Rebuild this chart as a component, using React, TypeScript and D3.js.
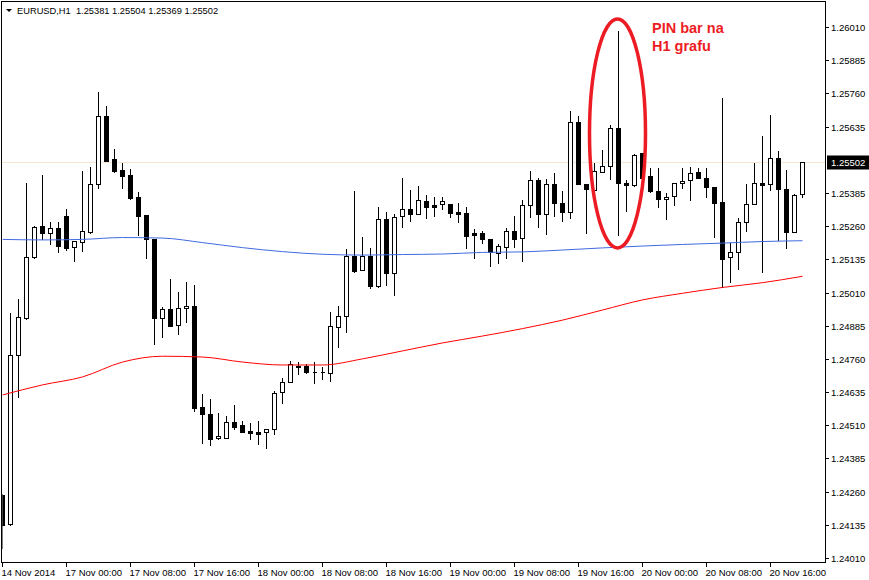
import React from 'react';
import * as d3 from 'd3';

// EURUSD H1 candles, 14 Nov 2014 16:00 .. 20 Nov 2014 20:00 (101 bars)
const opens = [
  1.24247, 1.24138, 1.24775, 1.24914, 1.25144, 1.25260, 1.25234, 1.25253, 1.25298, 1.25181,
  1.25200, 1.25238, 1.25419, 1.25675, 1.25513, 1.25471, 1.25453, 1.25370, 1.25302, 1.25212,
  1.24914, 1.24948, 1.24888, 1.24952, 1.24959, 1.24579, 1.24552, 1.24462, 1.24462, 1.24522,
  1.24511, 1.24488, 1.24485, 1.24485, 1.24496, 1.24635, 1.24673, 1.24729, 1.24733, 1.24711,
  1.24711, 1.24707, 1.24880, 1.24921, 1.25147, 1.25095, 1.25147, 1.25034, 1.25287, 1.25083,
  1.25298, 1.25325, 1.25306, 1.25355, 1.25340, 1.25343, 1.25343, 1.25313, 1.25309, 1.25234,
  1.25234, 1.25212, 1.25159, 1.25181, 1.25242, 1.25215, 1.25340, 1.25434, 1.25306, 1.25419,
  1.25347, 1.25313, 1.25652, 1.25419, 1.25396, 1.25464, 1.25486, 1.25630, 1.25422, 1.25415,
  1.25535, 1.25449, 1.25392, 1.25362, 1.25373, 1.25422, 1.25434, 1.25464, 1.25441, 1.25407,
  1.25351, 1.25144, 1.25163, 1.25276, 1.25343, 1.25422, 1.25419, 1.25517, 1.25400, 1.25238,
  1.25381,
];
const highs = [
  1.24255, 1.24937, 1.24989, 1.25426, 1.25264, 1.25456, 1.25279, 1.25279, 1.25328, 1.25204,
  1.25471, 1.25486, 1.25769, 1.25716, 1.25554, 1.25502, 1.25479, 1.25392, 1.25302, 1.25212,
  1.24959, 1.25065, 1.25016, 1.25053, 1.25042, 1.24631, 1.24613, 1.24560, 1.24549, 1.24590,
  1.24530, 1.24522, 1.24530, 1.24496, 1.24643, 1.24692, 1.24756, 1.24752, 1.24744, 1.24752,
  1.24733, 1.24940, 1.24963, 1.25178, 1.25396, 1.25223, 1.25181, 1.25336, 1.25317, 1.25309,
  1.25445, 1.25400, 1.25415, 1.25381, 1.25373, 1.25373, 1.25347, 1.25351, 1.25336, 1.25253,
  1.25245, 1.25212, 1.25196, 1.25257, 1.25302, 1.25362, 1.25471, 1.25445, 1.25441, 1.25464,
  1.25396, 1.25697, 1.25679, 1.25419, 1.25502, 1.25550, 1.25645, 1.25999, 1.25437, 1.25535,
  1.25539, 1.25483, 1.25483, 1.25389, 1.25422, 1.25483, 1.25486, 1.25483, 1.25483, 1.25407,
  1.25746, 1.25200, 1.25294, 1.25422, 1.25502, 1.25603, 1.25682, 1.25547, 1.25475, 1.25385,
  1.25504,
];
const lows = [
  1.24048, 1.24134, 1.24616, 1.24910, 1.25140, 1.25212, 1.25193, 1.25163, 1.25170, 1.25129,
  1.25166, 1.25234, 1.25404, 1.25505, 1.25464, 1.25404, 1.25362, 1.25227, 1.25140, 1.24816,
  1.24842, 1.24884, 1.24854, 1.24899, 1.24564, 1.24443, 1.24436, 1.24458, 1.24462, 1.24496,
  1.24485, 1.24458, 1.24439, 1.24424, 1.24477, 1.24594, 1.24673, 1.24703, 1.24707, 1.24669,
  1.24684, 1.24677, 1.24805, 1.24861, 1.25087, 1.25095, 1.25027, 1.25031, 1.25038, 1.25001,
  1.25257, 1.25279, 1.25306, 1.25291, 1.25298, 1.25325, 1.25294, 1.25276, 1.25178, 1.25140,
  1.25196, 1.25110, 1.25121, 1.25140, 1.25181, 1.25129, 1.25294, 1.25257, 1.25230, 1.25298,
  1.25279, 1.25291, 1.25419, 1.25234, 1.25396, 1.25464, 1.25437, 1.25227, 1.25317, 1.25411,
  1.25434, 1.25389, 1.25332, 1.25287, 1.25340, 1.25404, 1.25358, 1.25441, 1.25370, 1.25219,
  1.25031, 1.25050, 1.25099, 1.25242, 1.25343, 1.25087, 1.25396, 1.25208, 1.25178, 1.25238,
  1.25369,
];
const closes = [
  1.24134, 1.24775, 1.24918, 1.25144, 1.25257, 1.25234, 1.25253, 1.25185, 1.25178, 1.25204,
  1.25242, 1.25419, 1.25675, 1.25505, 1.25468, 1.25449, 1.25366, 1.25298, 1.25212, 1.24914,
  1.24948, 1.24884, 1.24952, 1.24959, 1.24575, 1.24552, 1.24458, 1.24470, 1.24522, 1.24503,
  1.24485, 1.24481, 1.24477, 1.24496, 1.24631, 1.24673, 1.24741, 1.24733, 1.24711, 1.24711,
  1.24710, 1.24884, 1.24921, 1.25147, 1.25091, 1.25147, 1.25034, 1.25287, 1.25083, 1.25294,
  1.25325, 1.25306, 1.25358, 1.25332, 1.25332, 1.25355, 1.25309, 1.25306, 1.25223, 1.25227,
  1.25212, 1.25163, 1.25185, 1.25242, 1.25212, 1.25340, 1.25434, 1.25306, 1.25419, 1.25347,
  1.25313, 1.25652, 1.25419, 1.25400, 1.25468, 1.25486, 1.25630, 1.25422, 1.25415, 1.25528,
  1.25441, 1.25392, 1.25362, 1.25370, 1.25422, 1.25430, 1.25460, 1.25441, 1.25407, 1.25347,
  1.25136, 1.25163, 1.25276, 1.25343, 1.25422, 1.25415, 1.25517, 1.25400, 1.25238, 1.25377,
  1.25502,
];

// Moving averages read at every 5th bar
const maBars = [0, 5, 10, 15, 20, 25, 30, 35, 40, 45, 50, 55, 60, 65, 70, 75, 80, 85, 90, 95, 100];
const maBlue = [
  1.25210, 1.25208, 1.25210, 1.25217, 1.25215, 1.25198, 1.25179, 1.25164, 1.25154, 1.25151,
  1.25153, 1.25155, 1.25161, 1.25163, 1.25170, 1.25178, 1.25185, 1.25191, 1.25196, 1.25202,
  1.25205,
];
const maRed = [
  1.24624, 1.24662, 1.24692, 1.24748, 1.24770, 1.24767, 1.24748, 1.24737, 1.24737, 1.24760,
  1.24790, 1.24820, 1.24846, 1.24874, 1.24906, 1.24944, 1.24982, 1.25007, 1.25029, 1.25047,
  1.25071,
];

const priceTicks = [
  1.26010, 1.25885, 1.25760, 1.25635, 1.25385, 1.25260, 1.25135, 1.25010,
  1.24885, 1.24760, 1.24635, 1.24510, 1.24385, 1.24260, 1.24135, 1.24010,
];
const timeLabels = [
  '14 Nov 2014', '17 Nov 00:00', '17 Nov 08:00', '17 Nov 16:00', '18 Nov 00:00',
  '18 Nov 08:00', '18 Nov 16:00', '19 Nov 00:00', '19 Nov 08:00', '19 Nov 16:00',
  '20 Nov 00:00', '20 Nov 08:00', '20 Nov 16:00',
];
const timeBars = [0, 8, 16, 24, 32, 40, 48, 56, 64, 72, 80, 88, 96];

const headerText = 'EURUSD,H1  1.25381 1.25504 1.25369 1.25502';
const bidPrice = 1.25502;
const annotation = ['PIN bar na', 'H1 grafu'];
const pinBar = 77;

const FONT = '"Liberation Sans", Arial, sans-serif';

export default function App() {
  const W = 869, H = 580;
  const L = 2, R = 825, T = 2, B = 562;
  const x = d3.scaleLinear().domain([0, 100]).range([2.5, 802.5]);
  const y = d3.scaleLinear().domain([1.24010, 1.26010]).range([558, 27]);
  const py = (v: number) => Math.round(y(v)) + 0.5;

  const line = d3.line<number>()
    .x((_, i) => x(maBars[i]))
    .y((d) => y(d))
    .curve(d3.curveMonotoneX);

  const candles = opens.map((o, i) => {
    const c = closes[i];
    const cx = x(i);
    const yTop = py(Math.max(o, c));
    const yBot = py(Math.min(o, c));
    const bull = c >= o;
    return (
      <g key={i}>
        <line x1={cx} x2={cx} y1={py(highs[i])} y2={py(lows[i])} stroke="#000" strokeWidth={1} />
        {yBot - yTop < 1 ? (
          <line x1={cx - 2} x2={cx + 2} y1={yTop} y2={yTop} stroke="#000" strokeWidth={1} />
        ) : (
          <rect x={cx - 2} y={yTop} width={4} height={yBot - yTop}
            fill={bull ? '#fff' : '#000'} stroke="#000" strokeWidth={1} />
        )}
      </g>
    );
  });

  const bidY = py(bidPrice);
  const pinX = x(pinBar) - 1;
  const pinTop = y(highs[pinBar]);
  const pinBot = y(lows[pinBar]);

  return (
    <svg width={W} height={H} style={{ position: 'absolute', left: 0, top: 0, background: '#fff' }}
      fontFamily={FONT}>
      <defs>
        <clipPath id="plot">
          <rect x={L + 0.5} y={T + 0.5} width={R - L - 1} height={B - T - 1} />
        </clipPath>
      </defs>
      <rect x={0} y={0} width={W} height={H} fill="#fff" />
      {/* bid line */}
      <line x1={L} x2={R} y1={bidY} y2={bidY} stroke="#f6e6d3" strokeWidth={1} />
      <g clipPath="url(#plot)" shapeRendering="crispEdges">{candles}</g>
      <g clipPath="url(#plot)">
        <path d={line(maBlue) || ''} fill="none" stroke="#4169e1" strokeWidth={1} />
        <path d={line(maRed) || ''} fill="none" stroke="#ff0000" strokeWidth={1} />
      </g>
      {/* frame */}
      <rect x={L - 0.5} y={T - 0.5} width={R - L + 1} height={B - T + 1} fill="none" stroke="#000" strokeWidth={1} shapeRendering="crispEdges" />
      {/* right axis */}
      {priceTicks.map((p, i) => (
        <g key={i}>
          <line x1={R} x2={R + 4} y1={py(p)} y2={py(p)} stroke="#000" shapeRendering="crispEdges" />
          <text x={831} y={py(p) + 3.5} fontSize={9.5} fill="#000">{p.toFixed(5)}</text>
        </g>
      ))}
      {/* bid label */}
      <rect x={827} y={bidY - 7} width={42} height={14} fill="#000" />
      <text x={831} y={bidY + 3.5} fontSize={9.5} fill="#fff">{bidPrice.toFixed(5)}</text>
      {/* bottom axis */}
      {timeBars.map((b, i) => (
        <g key={i}>
          <line x1={x(b)} x2={x(b)} y1={B} y2={B + 5} stroke="#000" shapeRendering="crispEdges" />
          <text x={x(b) - 1} y={576} fontSize={9.5} fill="#000">{timeLabels[i]}</text>
        </g>
      ))}
      {/* header */}
      <path d="M6,9 L12,9 L9,12 Z" fill="#000" />
      <text x={17} y={14} fontSize={9.3} fill="#000" style={{ whiteSpace: 'pre' }}>{headerText}</text>
      {/* annotation */}
      <ellipse cx={pinX} cy={(pinTop + pinBot) / 2 + 1} rx={28} ry={(pinBot - pinTop) / 2 + 12}
        fill="none" stroke="#ed1c24" strokeWidth={3.5} />
      <text x={652} y={33} fontSize={14.5} fontWeight="bold" fill="#ed1c24">{annotation[0]}</text>
      <text x={652} y={51} fontSize={14.5} fontWeight="bold" fill="#ed1c24">{annotation[1]}</text>
    </svg>
  );
}
